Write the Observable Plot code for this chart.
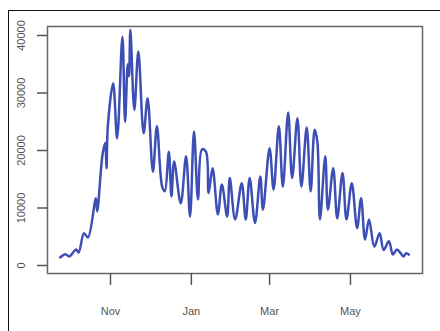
<!DOCTYPE html>
<html><head><meta charset="utf-8">
<script src="https://cdn.jsdelivr.net/npm/d3@7"></script>
<script src="https://cdn.jsdelivr.net/npm/@observablehq/plot@0.6"></script>
<style>
html,body{margin:0;padding:0;background:#fff;overflow:hidden}
#wrap{position:relative;width:440px;height:331px;overflow:hidden}
#wrap svg{display:block}
#outer{position:absolute;left:8px;top:10px;width:600px;height:600px;border-top:1.5px solid #111;border-left:1.5px solid #111}
</style></head><body><div id="wrap"><div id="outer"></div></div>
<script>
const dates = ["2020-09-24","2020-09-28","2020-10-01","2020-10-06","2020-10-08","2020-10-12","2020-10-15","2020-10-21","2020-10-22","2020-10-26","2020-10-28","2020-10-29","2020-10-30","2020-11-03","2020-11-06","2020-11-10","2020-11-12","2020-11-14","2020-11-15","2020-11-16","2020-11-19","2020-11-22","2020-11-26","2020-11-29","2020-12-03","2020-12-06","2020-12-10","2020-12-12","2020-12-15","2020-12-17","2020-12-19","2020-12-24","2020-12-28","2020-12-31","2021-01-03","2021-01-06","2021-01-09","2021-01-12","2021-01-14","2021-01-17","2021-01-21","2021-01-24","2021-01-28","2021-01-30","2021-02-03","2021-02-08","2021-02-11","2021-02-14","2021-02-18","2021-02-22","2021-02-24","2021-03-01","2021-03-04","2021-03-08","2021-03-11","2021-03-15","2021-03-18","2021-03-22","2021-03-25","2021-03-29","2021-04-01","2021-04-04","2021-04-06","2021-04-08","2021-04-12","2021-04-14","2021-04-18","2021-04-21","2021-04-25","2021-04-28","2021-05-02","2021-05-06","2021-05-09","2021-05-12","2021-05-15","2021-05-19","2021-05-23","2021-05-26","2021-05-30","2021-06-02","2021-06-05","2021-06-08","2021-06-10","2021-06-12","2021-06-14"];
const cases = [1390,1970,1570,2780,2260,5620,4870,11700,9400,19300,21300,16900,24200,31700,22100,39800,25000,35000,32900,41000,27100,37200,23000,29100,16300,24200,13700,12900,19800,12000,18100,10800,19000,8500,23300,11500,20200,19800,12600,16900,8900,14100,8500,15200,8000,14300,8000,15200,7400,15500,9700,20400,13200,24200,13700,26600,15200,25600,13700,24000,12900,23600,21600,8000,19000,9700,16900,8200,16100,8000,14300,6500,11700,4500,8000,3300,5600,2700,4200,1900,2800,2100,1570,2140,1900];
const xTickDates = ["2020-11-01","2021-01-01","2021-03-01","2021-05-01"];
const xTickLabels = ["Nov","Jan","Mar","May"];
const yTicks = [0,10000,20000,30000,40000];

const data = dates.map((d,i)=>({date:new Date(d), value:cases[i]}));
const xt = xTickDates.map(d=>new Date(d));
const chart = Plot.plot({
  width:440, height:331, marginLeft:47, marginRight:18, marginTop:26, marginBottom:58,
  style:{fontFamily:"Liberation Sans, Arial, sans-serif", fontSize:"11px", color:"#555", background:"transparent"},
  x:{type:"utc", domain:[new Date("2020-09-14T12:00Z"), new Date("2021-06-24T08:00Z")]},
  y:{domain:[-1391,41565]},
  marks:[
    Plot.frame({stroke:"#666", strokeWidth:1.5}),
    Plot.axisX({ticks: xt, tickFormat: d => xTickLabels[xt.findIndex(t=>+t===+d)], tickSize:12, tickPadding:22, stroke:"#555", strokeWidth:1.5, label:null, fill:"#555"}),
    Plot.axisY({ticks: yTicks, tickFormat: d=>String(d), tickRotate:-90, tickSize:10, tickPadding:13, stroke:"#555", strokeWidth:1.5, label:null, fill:"#555"}),
    Plot.line(data,{x:"date",y:"value",stroke:"#3d4fb5",strokeWidth:2.5,curve:"catmull-rom"})
  ]
});
document.getElementById("wrap").prepend(chart);
</script></body></html>
